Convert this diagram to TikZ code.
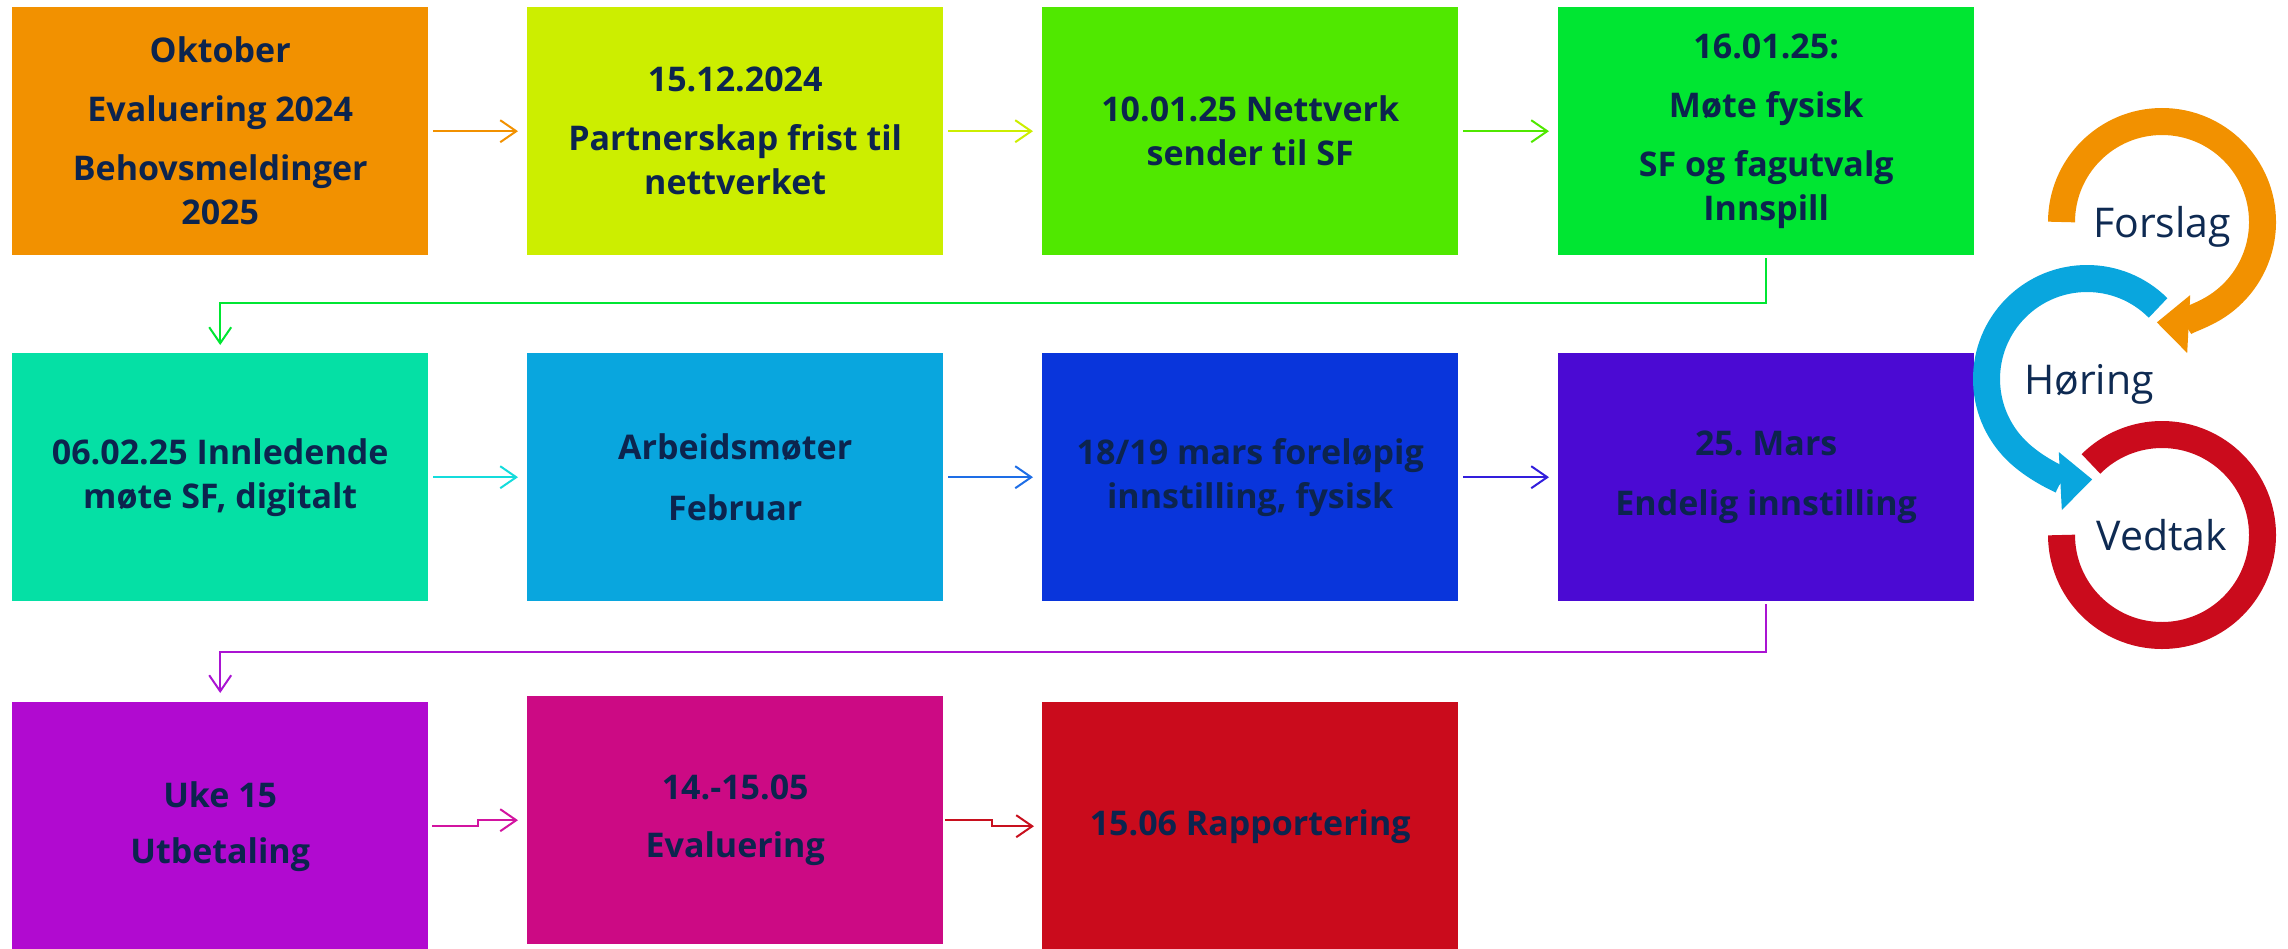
\documentclass[tikz,border=0pt]{standalone}
\usepackage{fontspec}
\setmainfont{Open Sans}
\frenchspacing
\usetikzlibrary{arrows.meta}
\definecolor{txt}{RGB}{12,36,78}
\definecolor{lbl}{RGB}{14,42,82}
\definecolor{c1}{RGB}{242,145,0}
\definecolor{c2}{RGB}{204,238,0}
\definecolor{c3}{RGB}{80,232,0}
\definecolor{c4}{RGB}{0,230,50}
\definecolor{c5}{RGB}{5,224,165}
\definecolor{c6}{RGB}{9,166,222}
\definecolor{c7}{RGB}{9,53,219}
\definecolor{c8}{RGB}{75,10,211}
\definecolor{c9}{RGB}{177,10,208}
\definecolor{c10}{RGB}{204,10,132}
\definecolor{c11}{RGB}{202,11,28}
\definecolor{a5}{RGB}{20,220,220}
\definecolor{a6}{RGB}{30,110,230}
\definecolor{a7}{RGB}{50,30,220}
\definecolor{e2}{RGB}{170,20,210}
\definecolor{a9}{RGB}{210,20,160}
\definecolor{a10}{RGB}{200,16,30}
\begin{document}
\begin{tikzpicture}[x=1pt,y=1pt,
  box/.style={fill=#1, draw=none, minimum width=416pt, minimum height=248pt,
    inner sep=0pt, align=center, text=txt, anchor=north west,
    font=\fontsize{34}{44}\selectfont\bfseries},
  conn/.style={draw=#1, line width=2pt, -{Straight Barb[length=16pt,width=22pt]}},
  ring/.style={draw=#1, line width=27pt},
  ringtip/.style={-{Triangle[length=32pt,width=56pt]}},
  clabel/.style={anchor=base, text=lbl, font=\fontsize{41}{48}\selectfont}
]
\useasboundingbox (0,0) rectangle (2288,-948);

% row 1
\node[box=c1] (b1) at (12,-7) {Oktober\\[15pt]Evaluering 2024\\[15pt]Behovsmeldinger\\2025};
\node[box=c2] (b2) at (527,-7) {15.12.2024\\[15pt]Partnerskap frist til\\nettverket};
\node[box=c3] (b3) at (1042,-7) {10.01.25 Nettverk\\sender til SF};
\node[box=c4] (b4) at (1558,-7) {16.01.25:\\[15pt]Møte fysisk\\[15pt]SF og fagutvalg\\Innspill};
% row 2
\node[box=c5] (b5) at (12,-353) {06.02.25 Innledende\\møte SF, digitalt};
\node[box=c6] (b6) at (527,-353) {Arbeidsmøter\\[17pt]Februar};
\node[box=c7] (b7) at (1042,-353) {18/19 mars foreløpig\\innstilling, fysisk};
\node[box=c8] (b8) at (1558,-353) {25. Mars\\[16pt]Endelig innstilling};
% row 3
\node[box=c9] (b9) at (12,-702) {Uke 15\\[12pt]Utbetaling};
\node[box=c10] (b10) at (527,-696) {14.-15.05\\[14pt]Evaluering};
\node[box=c11] (b11) at (1042,-702) {15.06 Rapportering};

% connectors
\draw[conn=c1] ([xshift=5pt]b1.east) -- ([xshift=-9pt]b2.west);
\draw[conn=c2] ([xshift=5pt]b2.east) -- ([xshift=-9pt]b3.west);
\draw[conn=c3] ([xshift=5pt]b3.east) -- ([xshift=-9pt]b4.west);
\draw[conn=c4] ([yshift=-3pt]b4.south) -- ([yshift=-48pt]b4.south) -| ([yshift=8pt]b5.north);
\draw[conn=a5] ([xshift=5pt]b5.east) -- ([xshift=-9pt]b6.west);
\draw[conn=a6] ([xshift=5pt]b6.east) -- ([xshift=-9pt]b7.west);
\draw[conn=a7] ([xshift=5pt]b7.east) -- ([xshift=-9pt]b8.west);
\draw[conn=e2] ([yshift=-3pt]b8.south) -- ([yshift=-51pt]b8.south) -| ([yshift=9pt]b9.north);
\draw[conn=a9] ([xshift=4pt]b9.east) -- ++(46,0) |- ([xshift=-9pt]b10.west);
\draw[conn=a10] ([xshift=2pt]b10.east) -- ++(47,0) |- ([xshift=-8pt]b11.west);

% cycle on the right
\coordinate (oc) at (2162,-222);
\coordinate (bc) at (2087,-379);
\coordinate (rc) at (2162,-535);
\draw[ring=c11] (rc) ++(180:100.5) arc[start angle=180, end angle=495, radius=100.5];
\draw[ring=c6, ringtip] (bc) ++(45:100.5) arc[start angle=45, end angle=273, radius=100.5];
\draw[ring=c1, ringtip] (oc) ++(180:100.5) arc[start angle=180, end angle=-93, radius=100.5];

\node[clabel] (forslag) at (2162,-237) {Forslag};
\node[clabel] (horing) at (2089,-394) {Høring};
\node[clabel] (vedtak) at (2162,-550) {Vedtak};
\end{tikzpicture}
\end{document}
